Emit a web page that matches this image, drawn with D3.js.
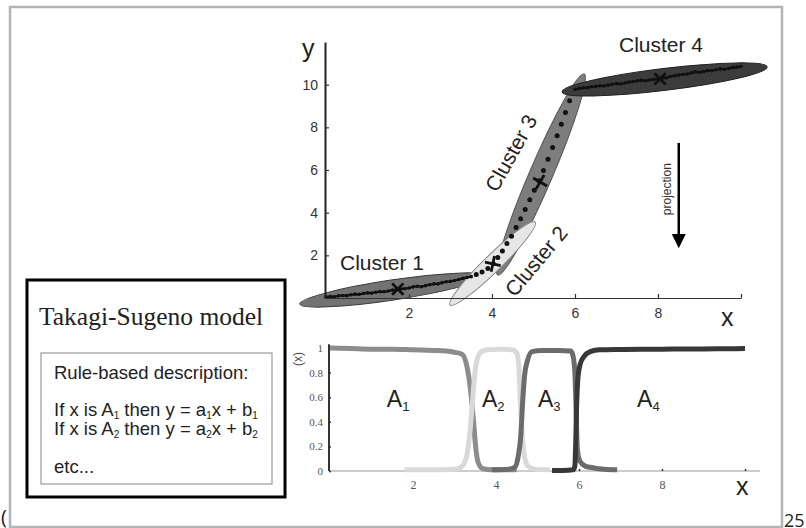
<!DOCTYPE html>
<html><head><meta charset="utf-8">
<script src="https://cdn.jsdelivr.net/npm/d3@7"></script>
<style>
html,body{margin:0;padding:0;background:#fff;}
svg{display:block;}
</style></head><body>
<svg id="chart" width="806" height="528"></svg>
<script>
// ---------------- DATA ----------------
const clusterNames = ["Cluster 1", "Cluster 2", "Cluster 3", "Cluster 4"];
const clusterCenters = [[1.73, 0.42], [4.02, 1.6], [5.16, 5.44], [8.05, 10.27]];
const ellipseTipA = [[-0.63, -0.28], [2.99, -0.33], [4.14, 1.08], [5.69, 9.66]];
const ellipseTipB = [[3.83, 1.03], [5.04, 3.56], [6.22, 10.5], [10.63, 10.83]];

// measured samples (x, y)
const samplesCluster1 = [[0.0,0.05],[0.1,0.07],[0.2,0.06],[0.3,0.10],[0.4,0.12],[0.5,0.11],[0.6,0.15],[0.7,0.18],[0.8,0.17],[0.9,0.21],[1.0,0.24],[1.1,0.23],[1.2,0.27],[1.3,0.30],[1.4,0.29],[1.5,0.33],[1.6,0.37],[1.7,0.40],[1.8,0.43],[1.9,0.44],[2.0,0.47],[2.1,0.52],[2.2,0.55],[2.3,0.53],[2.4,0.58],[2.5,0.62],[2.6,0.66],[2.7,0.66],[2.8,0.72],[2.9,0.76],[3.0,0.78],[3.1,0.82],[3.2,0.87],[3.3,0.92],[3.4,0.96],[3.5,1.0]];
const samplesCluster23 = [[3.62,1.1],[3.76,1.22],[3.9,1.38],[4.03,1.6],[4.14,1.9],[4.25,2.2],[4.36,2.55],[4.47,2.9],[4.58,3.3],[4.69,3.72],[4.8,4.15],[4.91,4.6],[5.02,5.05],[5.13,5.5],[5.24,5.98],[5.35,6.5],[5.46,7.05],[5.57,7.6],[5.67,8.15],[5.77,8.7],[5.87,9.25]];
const samplesCluster4 = [[6.0,9.78],[6.1,9.82],[6.2,9.85],[6.3,9.86],[6.4,9.9],[6.5,9.92],[6.6,9.95],[6.7,9.94],[6.8,9.98],[6.9,10.02],[7.0,10.05],[7.1,10.03],[7.2,10.08],[7.3,10.12],[7.4,10.15],[7.5,10.18],[7.6,10.2],[7.7,10.18],[7.8,10.22],[7.9,10.25],[8.0,10.27],[8.1,10.3],[8.2,10.32],[8.3,10.38],[8.4,10.42],[8.5,10.45],[8.6,10.48],[8.7,10.5],[8.8,10.55],[8.9,10.6],[9.0,10.58],[9.1,10.62],[9.2,10.66],[9.3,10.65],[9.4,10.7],[9.5,10.74],[9.6,10.72],[9.7,10.76],[9.8,10.8],[9.9,10.82],[10.0,10.85]];

const topXTicks = [2, 4, 6, 8, 10];
const topYTicks = [2, 4, 6, 8, 10];

// membership functions (x, mu)
const memberA1 = [[0,1],[0.5,0.995],[1,0.99],[1.5,0.99],[2,0.985],[2.5,0.98],[2.8,0.975],[3.0,0.965],[3.18,0.95],[3.3,0.85],[3.38,0.68],[3.42,0.55],[3.46,0.4],[3.5,0.23],[3.57,0.07],[3.68,0.02],[3.9,0.01],[4.5,0.01]];
const memberA2 = [[1.8,0.01],[2.5,0.01],[3.0,0.015],[3.15,0.03],[3.28,0.1],[3.36,0.28],[3.42,0.5],[3.47,0.72],[3.54,0.9],[3.65,0.97],[3.8,0.985],[4.1,0.99],[4.4,0.985],[4.5,0.96],[4.55,0.85],[4.58,0.62],[4.62,0.35],[4.68,0.13],[4.77,0.04],[4.95,0.015],[5.3,0.01]];
const memberA3 = [[3.9,0.01],[4.3,0.015],[4.45,0.03],[4.53,0.11],[4.6,0.3],[4.64,0.55],[4.69,0.78],[4.76,0.9],[4.87,0.97],[5.1,0.98],[5.5,0.98],[5.8,0.975],[5.86,0.93],[5.9,0.8],[5.93,0.5],[5.96,0.18],[6.02,0.08],[6.15,0.04],[6.36,0.025],[6.6,0.015],[6.92,0.01]];
const memberA4 = [[5.35,0.005],[5.6,0.005],[5.86,0.01],[5.9,0.04],[5.92,0.22],[5.94,0.5],[5.97,0.74],[6.03,0.87],[6.12,0.93],[6.27,0.97],[6.5,0.985],[7,0.988],[7.5,0.99],[8,0.99],[8.5,0.992],[9,0.992],[9.5,0.994],[10,0.995]];
const memberNames = ["A1", "A2", "A3", "A4"];
const memberLabelPos = [[1.37, 0.52], [3.66, 0.52], [5.01, 0.52], [7.4, 0.52]];

const botXTicks = [2, 4, 6, 8, 10];
const botYTicks = [0, 0.2, 0.4, 0.6, 0.8, 1];

// ---------------- DRAW ----------------
const svg = d3.select("#chart");
const SANS = "'Liberation Sans', Arial, Helvetica, sans-serif";

// outer frame
svg.append("rect").attr("x", 10).attr("y", 7).attr("width", 772).attr("height", 520)
  .attr("fill", "#fff").attr("stroke", "#b4b4b4").attr("stroke-width", 2.5);

// ---- top chart ----
const x = d3.scaleLinear().domain([0, 10]).range([326, 741]);
const y = d3.scaleLinear().domain([0, 12]).range([298, 42]);

const gTop = svg.append("g");

// ellipses
const ellipseFill = ["#737373", "#e6e6e6", "#7d7d7d", "#3c3c3c"];
const ellipseStroke = ["#3a3a3a", "#8a8a8a", "#555", "#222"];
const ellipseWidth = [20, 17, 23, 22];
[2, 0, 1, 3].forEach(i => {
  const a = [x(ellipseTipA[i][0]), y(ellipseTipA[i][1])];
  const b = [x(ellipseTipB[i][0]), y(ellipseTipB[i][1])];
  const cx = (a[0] + b[0]) / 2, cy = (a[1] + b[1]) / 2;
  const len = Math.hypot(b[0] - a[0], b[1] - a[1]);
  const ang = Math.atan2(b[1] - a[1], b[0] - a[0]) * 180 / Math.PI;
  gTop.append("ellipse")
    .attr("transform", `translate(${cx},${cy}) rotate(${ang})`)
    .attr("rx", len / 2).attr("ry", ellipseWidth[i] / 2)
    .attr("fill", ellipseFill[i]).attr("stroke", ellipseStroke[i]).attr("stroke-width", 1);
});

// dense sample lines
[samplesCluster1, samplesCluster4].forEach(s => {
  gTop.append("path").datum(s)
    .attr("d", d3.line().x(d => x(d[0])).y(d => y(d[1])).curve(d3.curveLinear))
    .attr("fill", "none").attr("stroke", "#111").attr("stroke-width", 2.2);
  gTop.selectAll(null).data(s).enter().append("circle")
    .attr("cx", d => x(d[0])).attr("cy", d => y(d[1])).attr("r", 1.8).attr("fill", "#111");
});
gTop.selectAll(null).data(samplesCluster23).enter().append("circle")
  .attr("cx", d => x(d[0])).attr("cy", d => y(d[1])).attr("r", 2.5).attr("fill", "#111");

// cluster centers
const markerRot = [45, 12, 30, 45];
clusterCenters.forEach((c, i) => {
  const g = gTop.append("g").attr("transform", `translate(${x(c[0])},${y(c[1])}) rotate(${markerRot[i]})`);
  const s = 8;
  g.append("line").attr("x1", -s).attr("x2", s).attr("y1", 0).attr("y2", 0)
    .attr("stroke", "#111").attr("stroke-width", 2.8);
  g.append("line").attr("y1", -s).attr("y2", s).attr("x1", 0).attr("x2", 0)
    .attr("stroke", "#111").attr("stroke-width", 2.8);
});

// axes
const yAxisTop = d3.axisLeft(y).tickValues(topYTicks).tickSizeInner(-4).tickSizeOuter(0).tickPadding(7);
const xAxisTop = d3.axisBottom(x).tickValues(topXTicks).tickSizeInner(-4).tickSizeOuter(0).tickPadding(10)
  .tickFormat(d => d === 10 ? "" : d);
const gy = svg.append("g").attr("transform", `translate(${x(0) - 1},0)`).call(yAxisTop);
const gx = svg.append("g").attr("transform", `translate(0,${y(0)})`).call(xAxisTop);
gy.select(".domain").attr("stroke", "#222").attr("stroke-width", 2);
gx.select(".domain").attr("stroke", "#333").attr("stroke-width", 1.2);
[gx, gy].forEach(g => {
  g.selectAll(".tick line").attr("stroke", "#333").attr("stroke-width", 1.2);
  g.selectAll(".tick text").attr("fill", "#333").style("font-family", SANS).style("font-size", "14px");
});

svg.append("text").attr("x", 302).attr("y", 57).text("y")
  .style("font-family", SANS).style("font-size", "25px").attr("fill", "#222");
svg.append("text").attr("x", 721).attr("y", 326).text("x")
  .style("font-family", SANS).style("font-size", "25px").attr("fill", "#222");

// cluster labels
const labStyle = sel => sel.style("font-family", SANS).style("font-size", "21px").attr("fill", "#222");
labStyle(svg.append("text").attr("x", 340).attr("y", 270).text(clusterNames[0]));
labStyle(svg.append("text").attr("x", 619).attr("y", 52).text(clusterNames[3]));
labStyle(svg.append("text").attr("transform", "translate(511,153) rotate(-61)")
  .attr("text-anchor", "middle").attr("dy", "0.35em").text(clusterNames[2]));
labStyle(svg.append("text").attr("transform", "translate(536,261) rotate(-50)")
  .attr("text-anchor", "middle").attr("dy", "0.35em").text(clusterNames[1]));

// projection arrow
const ax = x(8.5);
svg.append("line").attr("x1", ax).attr("x2", ax).attr("y1", y(7.27)).attr("y2", y(3.0))
  .attr("stroke", "#000").attr("stroke-width", 2.5);
svg.append("path").attr("d", `M${ax - 7},${y(3.0)} L${ax + 7},${y(3.0)} L${ax},${y(2.33)} Z`).attr("fill", "#000");
svg.append("text").attr("transform", `translate(${x(8.2)},${y(5.1)}) rotate(-90)`)
  .attr("text-anchor", "middle").attr("dy", "0.35em").text("projection")
  .style("font-family", SANS).style("font-size", "12px").attr("fill", "#333");

// ---- bottom chart ----
const xb = d3.scaleLinear().domain([0, 10]).range([330, 745]);
const yb = d3.scaleLinear().domain([0, 1]).range([471, 348]);

const xAxisB = d3.axisBottom(xb).tickValues(botXTicks).tickSizeInner(-2).tickSizeOuter(0).tickPadding(9)
  .tickFormat(d => d === 10 ? "" : d);
const yAxisB = d3.axisLeft(yb).tickValues(botYTicks).tickSizeInner(-2).tickSizeOuter(0).tickPadding(6)
  .tickFormat(d => d === 0 ? "0" : d === 1 ? "1" : d3.format(".1f")(d));
const gxb = svg.append("g").attr("transform", `translate(0,${yb(0)})`).call(xAxisB);
gxb.select(".domain").attr("d", `M${xb(0)},0H${xb(10.36)}`).attr("stroke", "#999").attr("stroke-width", 1.2);
const gyb = svg.append("g").attr("transform", `translate(${xb(0) - 1},0)`).call(yAxisB);
gyb.select(".domain").attr("d", `M0,${yb(0)}V${yb(1.03)}`).attr("stroke", "#333").attr("stroke-width", 2);
[gxb, gyb].forEach(g => {
  g.selectAll(".tick line").attr("stroke", "#333").attr("stroke-width", 1.5);
  g.selectAll(".tick text").attr("fill", "#555").style("font-family", "'Liberation Serif', 'DejaVu Serif', serif")
    .style("font-size", "11px");
});
gxb.selectAll(".tick text").style("font-size", "12px");

const memberSeries = [memberA1, memberA2, memberA3, memberA4];
const memberColor = ["#8c8c8c", "#d9d9d9", "#6c6c6c", "#383838"];
const mline = d3.line().x(d => xb(d[0])).y(d => yb(d[1])).curve(d3.curveMonotoneX);
memberSeries.forEach((s, i) => {
  svg.append("path").datum(s).attr("d", mline).attr("fill", "none")
    .attr("stroke", memberColor[i]).attr("stroke-width", 5)
    .attr("stroke-linejoin", "round").attr("stroke-linecap", "butt");
});

memberNames.forEach((n, i) => {
  const t = svg.append("text").attr("x", xb(memberLabelPos[i][0])).attr("y", yb(memberLabelPos[i][1]))
    .style("font-family", SANS).style("font-size", "23px").attr("fill", "#222");
  t.append("tspan").text(n[0]);
  t.append("tspan").attr("dy", 4).style("font-size", "13px").text(n[1]);
});

svg.append("text").attr("transform", `translate(298,359) rotate(-90)`)
  .attr("text-anchor", "middle").attr("dy", "0.35em").text("(x)")
  .style("font-family", SANS).style("font-size", "12px").attr("fill", "#444");
svg.append("text").attr("x", 736).attr("y", 495).text("x")
  .style("font-family", SANS).style("font-size", "25px").attr("fill", "#222");

// ---- Takagi-Sugeno box ----
svg.append("rect").attr("x", 27).attr("y", 280).attr("width", 258).attr("height", 217)
  .attr("fill", "#fff").attr("stroke", "#000").attr("stroke-width", 3);
svg.append("text").attr("x", 39).attr("y", 325).text("Takagi-Sugeno model")
  .style("font-family", "'Liberation Serif', 'Times New Roman', serif").style("font-size", "25.5px").attr("fill", "#222");
svg.append("rect").attr("x", 41).attr("y", 353).attr("width", 231).attr("height", 131)
  .attr("fill", "#fff").attr("stroke", "#999").attr("stroke-width", 1.2);
const bodyStyle = sel => sel.style("font-family", SANS).style("font-size", "18.5px").attr("fill", "#222");
bodyStyle(svg.append("text").attr("x", 54).attr("y", 379).text("Rule-based description:"));
function ruleLine(yPos, k) {
  const t = bodyStyle(svg.append("text").attr("x", 54).attr("y", yPos));
  const sub = s => t.append("tspan").attr("dy", 3).style("font-size", "10px").text(s);
  const norm = s => t.append("tspan").attr("dy", -3).text(s);
  t.append("tspan").text("If x is A");
  sub(k); norm(" then y = a"); sub(k); norm("x + b"); sub(k);
}
ruleLine(416, "1");
ruleLine(435, "2");
bodyStyle(svg.append("text").attr("x", 54).attr("y", 473).text("etc..."));

// page artefacts
svg.append("text").attr("x", 1).attr("y", 524).text("(")
  .style("font-family", "'Open Sans', sans-serif").style("font-size", "20px").attr("fill", "#222");
svg.append("text").attr("x", 784).attr("y", 527).text("25")
  .style("font-family", "'Open Sans', sans-serif").style("font-size", "18px").attr("fill", "#222");
</script>
</body></html>
